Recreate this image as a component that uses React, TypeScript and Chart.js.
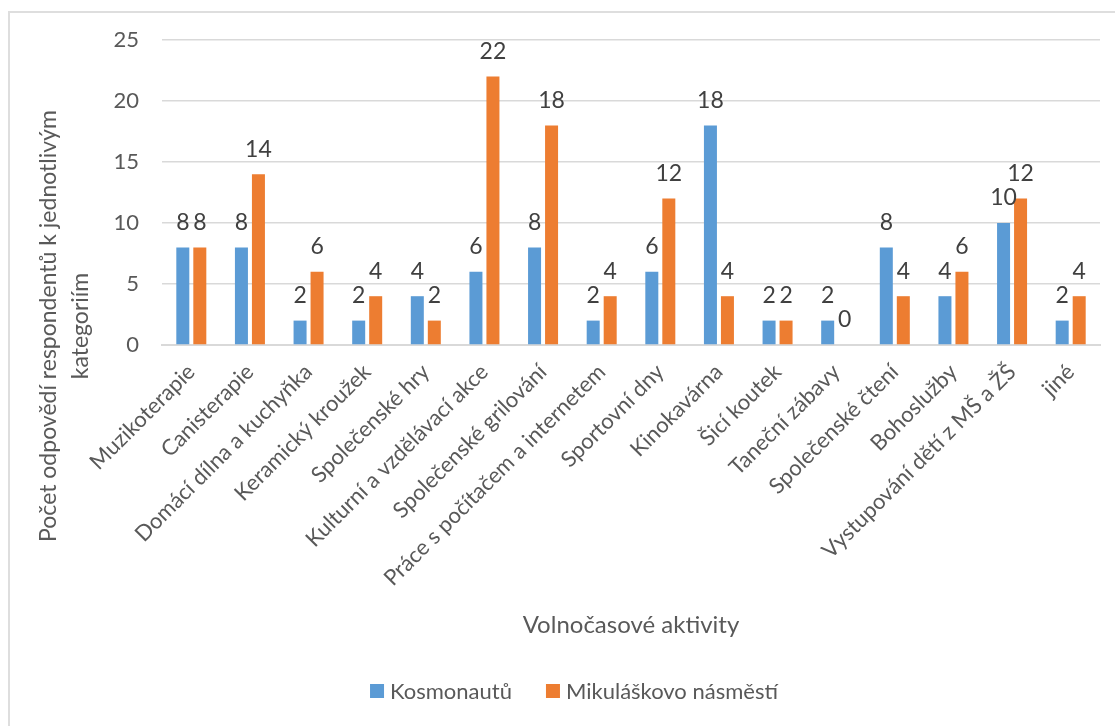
import React, { useEffect, useRef } from "react";
import { Chart, registerables } from "chart.js";

Chart.register(...registerables);

const categories = [
  "Muzikoterapie",
  "Canisterapie",
  "Domácí dílna a kuchyňka",
  "Keramický kroužek",
  "Společenské hry",
  "Kulturní a vzdělávací akce",
  "Společenské grilování",
  "Práce s počítačem a internetem",
  "Sportovní dny",
  "Kinokavárna",
  "Šicí koutek",
  "Taneční zábavy",
  "Společenské čtení",
  "Bohoslužby",
  "Vystupování dětí z MŠ a ŽŠ",
  "jiné",
];
const kosmonautu = [8, 8, 2, 2, 4, 6, 8, 2, 6, 18, 2, 2, 8, 4, 10, 2];
const mikulaskovo = [8, 14, 6, 4, 2, 22, 18, 4, 12, 4, 2, 0, 4, 6, 12, 4];
const seriesNames = ["Kosmonautů", "Mikuláškovo násměstí"];
const seriesColors = ["#5B9BD5", "#ED7D31"];
const yTitleLines = ["Počet odpovědí respondentů k jednotlivým", "kategoriím"];
const xTitle = "Volnočasové aktivity";

const FONT = "Lato";

const dataLabelPlugin = {
  id: "dataLabels",
  afterDatasetsDraw(chart: any) {
    const ctx = chart.ctx;
    ctx.save();
    ctx.font = `23px ${FONT}`;
    ctx.fillStyle = "#404040";
    ctx.textAlign = "center";
    ctx.textBaseline = "middle";
    chart.data.datasets.forEach((ds: any, di: number) => {
      const meta = chart.getDatasetMeta(di);
      meta.data.forEach((el: any, i: number) => {
        ctx.fillText(String(ds.data[i]), el.x, el.y - 25);
      });
    });
    ctx.restore();
  },
};

const yTitlePlugin = {
  id: "yTitle",
  afterDraw(chart: any) {
    const ctx = chart.ctx;
    ctx.save();
    ctx.font = `23px ${FONT}`;
    ctx.fillStyle = "#595959";
    ctx.textAlign = "center";
    ctx.textBaseline = "middle";
    const xs = [49, 81];
    yTitleLines.forEach((line, i) => {
      ctx.save();
      ctx.translate(xs[i], 326);
      ctx.rotate(-Math.PI / 2);
      ctx.fillText(line, 0, 0);
      ctx.restore();
    });
    ctx.restore();
  },
};

const legendPlugin = {
  id: "customLegend",
  afterDraw(chart: any) {
    const ctx = chart.ctx;
    ctx.save();
    ctx.font = `22px ${FONT}`;
    ctx.textBaseline = "middle";
    ctx.textAlign = "left";
    const box = 14;
    const gap = 6;
    const between = 34;
    const widths = seriesNames.map((n) => ctx.measureText(n).width);
    const total = widths.reduce((a, w) => a + box + gap + w, 0) + between * (seriesNames.length - 1);
    let x = 574 - total / 2;
    const cy = 691;
    seriesNames.forEach((name, i) => {
      ctx.fillStyle = seriesColors[i];
      ctx.fillRect(x, cy - box / 2, box, box);
      ctx.fillStyle = "#595959";
      ctx.fillText(name, x + box + gap, cy + 1);
      x += box + gap + widths[i] + between;
    });
    ctx.restore();
  },
};

export default function App() {
  const ref = useRef<HTMLCanvasElement>(null);
  useEffect(() => {
    if (!ref.current) return;
    const chart = new Chart(ref.current, {
      type: "bar",
      data: {
        labels: categories,
        datasets: seriesNames.map((name, i) => ({
          label: name,
          data: i === 0 ? kosmonautu : mikulaskovo,
          backgroundColor: seriesColors[i],
          categoryPercentage: 0.58,
          barPercentage: 0.765,
        })),
      },
      options: {
        responsive: false,
        animation: false,
        layout: { padding: { left: 0, right: 15, top: 40, bottom: 70 } },
        plugins: {
          legend: { display: false },
          tooltip: { enabled: false },
        },
        scales: {
          x: {
            grid: { display: false, drawTicks: false },
            border: { display: true, color: "#d9d9d9", width: 2 },
            ticks: {
              autoSkip: false,
              maxRotation: 45,
              minRotation: 45,
              padding: 14,
              font: { family: FONT, size: 22 },
              color: "#595959",
            },
            title: {
              display: true,
              text: xTitle,
              font: { family: FONT, size: 24 },
              color: "#595959",
              padding: { top: 10, bottom: 16 },
            },
            afterFit(scale: any) {
              scale.height = 311;
            },
          },
          y: {
            min: 0,
            max: 25,
            grid: { color: "#d9d9d9", lineWidth: 1.5, drawTicks: false },
            border: { display: false },
            ticks: {
              stepSize: 5,
              padding: 23,
              font: { family: FONT, size: 22 },
              color: "#595959",
            },
            afterFit(scale: any) {
              scale.width = 162;
            },
          },
        },
      },
      plugins: [dataLabelPlugin, yTitlePlugin, legendPlugin],
    });
    return () => chart.destroy();
  }, []);
  return (
    <div style={{ position: "fixed", left: 0, top: 0, width: 1115, height: 726, background: "#fff" }}>
      <div
        style={{
          position: "absolute",
          left: 8,
          top: 11,
          right: -10,
          bottom: -10,
          borderLeft: "2px solid #dedede",
          borderTop: "2px solid #dedede",
        }}
      />
      <canvas ref={ref} width={1115} height={726} style={{ position: "absolute", left: 0, top: 0 }} />
    </div>
  );
}
